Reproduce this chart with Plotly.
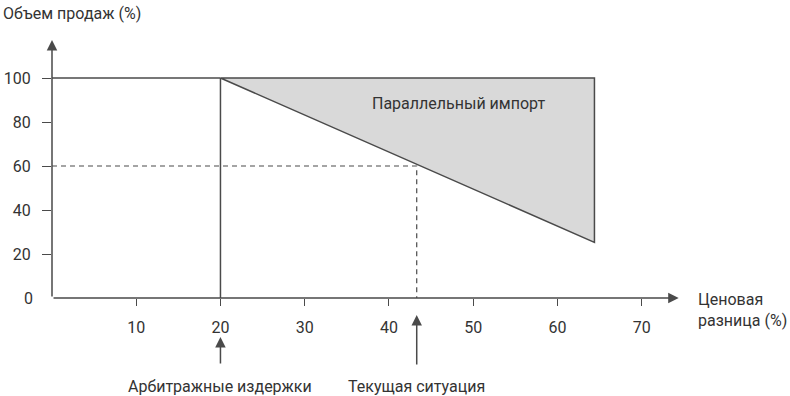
import plotly.graph_objects as go

# ---- data ----
x_ticks = [10, 20, 30, 40, 50, 60, 70]
y_ticks = [20, 40, 60, 80, 100]
y_zero_tick = [0]
arbitrage_cost = 20          # % price difference where parallel import begins
current_gap = 43.3           # current price difference (%)
current_volume = 60          # sales volume at current situation (%)
end_gap = 64.4               # right edge of the region
end_volume = 25.3            # sales volume at right edge (%)
full_volume = 100

line_c = "#4a4a4a"
txt_c = "#333333"
FONT = "Roboto"
FS = 16

fig = go.Figure()

# shaded parallel import region
fig.add_trace(go.Scatter(
    x=[arbitrage_cost, end_gap, end_gap, arbitrage_cost],
    y=[full_volume, full_volume, end_volume, full_volume],
    mode="lines", fill="toself", fillcolor="#d9d9d9",
    line=dict(color=line_c, width=1.5), hoverinfo="skip"))
# horizontal 100% line from axis to start of region
fig.add_trace(go.Scatter(x=[0, arbitrage_cost], y=[full_volume, full_volume],
                         mode="lines", line=dict(color=line_c, width=1.5)))
# vertical at arbitrage cost
fig.add_trace(go.Scatter(x=[arbitrage_cost, arbitrage_cost], y=[0, full_volume],
                         mode="lines", line=dict(color=line_c, width=1.5)))
# dashed guides
fig.add_trace(go.Scatter(x=[0, current_gap, current_gap], y=[current_volume, current_volume, 0],
                         mode="lines", line=dict(color=line_c, width=1.2, dash="5px,4px")))
# invisible trace to activate the secondary y axis (carries the "0" label)
fig.add_trace(go.Scatter(x=[0], y=[0], yaxis="y2", mode="markers",
                         marker=dict(opacity=0), hoverinfo="skip"))

arrow = dict(showarrow=True, arrowhead=2, arrowsize=1.4, arrowwidth=1.5,
             arrowcolor=line_c, text="")
ann = []
# axes with arrows
ann.append(dict(x=74.4, y=0, ax=0, ay=0, xref="x", yref="y", axref="x", ayref="y", **arrow))
ann.append(dict(x=0, y=117.3, ax=0, ay=0, xref="x", yref="y", axref="x", ayref="y", **arrow))
# bottom arrows
ann.append(dict(x=arbitrage_cost, y=-0.142, xref="x", yref="paper", ax=0, ay=28, **arrow))
ann.append(dict(x=current_gap, y=-0.062, xref="x", yref="paper", ax=0, ay=51, **arrow))
# texts
tf = dict(size=FS, color=txt_c, family=FONT)
ann.append(dict(x=arbitrage_cost, y=-0.32, xref="x", yref="paper", showarrow=False,
                text="Арбитражные издержки", xanchor="center", yanchor="middle", font=tf))
ann.append(dict(x=current_gap, y=-0.32, xref="x", yref="paper", showarrow=False,
                text="Текущая ситуация", xanchor="center", yanchor="middle", font=tf))
ann.append(dict(x=76.4, y=-0.044, xref="x", yref="paper", showarrow=False,
                text="Ценовая<br>разница (%)", xanchor="left", yanchor="middle", align="left",
                font=tf))
ann.append(dict(x=-0.078, y=1.035, xref="paper", yref="paper", showarrow=False,
                text="Объем продаж (%)", xanchor="left", yanchor="middle", font=tf))
ann.append(dict(x=48.3, y=88.2, xref="x", yref="y", showarrow=False,
                text="Параллельный импорт", xanchor="center", yanchor="middle", font=tf))

fig.update_layout(
    width=790, height=396,
    margin=dict(l=51.5, r=81, t=23, b=98),
    plot_bgcolor="white", paper_bgcolor="white",
    showlegend=False,
    annotations=ann,
    xaxis=dict(range=[0, 78], tickvals=x_ticks, ticks="outside", ticklen=7,
               tickwidth=1.3, tickcolor=line_c, showgrid=False, zeroline=False,
               showline=False, ticklabelstandoff=8, automargin=False,
               tickfont=tf),
    yaxis=dict(range=[0, 125], tickvals=y_ticks, ticks="outside", ticklen=9,
               tickwidth=1.3, tickcolor=line_c, showgrid=False,
               zeroline=False, showline=False, ticklabelstandoff=8, automargin=False,
               tickfont=tf),
    yaxis2=dict(range=[0, 125], overlaying="y", side="left", tickvals=y_zero_tick,
                ticks="", showgrid=False, zeroline=False, showline=False,
                ticklabelstandoff=18, automargin=False, tickfont=tf),
)

fig.write_html("out.html")
